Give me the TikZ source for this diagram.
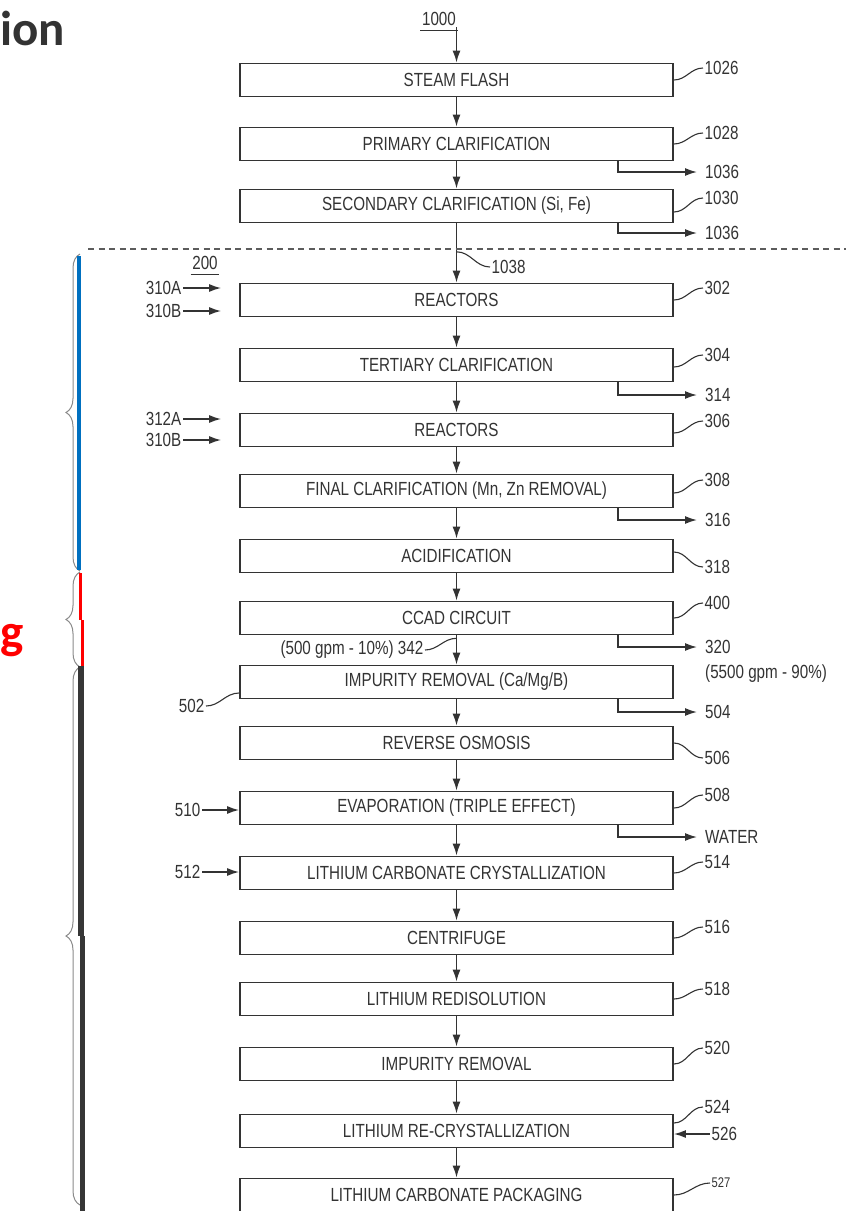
\documentclass[tikz,border=0pt]{standalone}
\usepackage{fontspec}
\newfontfamily\patfont{Liberation Sans}[FakeStretch=0.8]
\newfontfamily\slidefont{Carlito}
\usetikzlibrary{arrows.meta,calc,decorations.pathreplacing}
\definecolor{ink}{HTML}{333333}
\definecolor{bracegray}{HTML}{8A8A8A}
\definecolor{slideblue}{HTML}{0070C0}
\definecolor{slidered}{HTML}{FF0000}
\definecolor{slidedark}{HTML}{363636}
\definecolor{titlegray}{HTML}{333333}
\tikzset{
  stage/.style={draw=ink, line width=1.8pt, minimum width=433pt, minimum height=33pt,
    inner sep=0pt, text=ink, font=\patfont\fontsize{19}{20}\selectfont},
  num/.style={inner sep=1.5pt, text=ink, font=\patfont\fontsize{19}{20}\selectfont},
  flow/.style={draw=ink, line width=1.5pt, -{Latex[length=12pt,width=8pt]}},
  lead/.style={draw=ink, line width=1.1pt},
  bracket/.style={draw=bracegray, line width=1pt, decorate,
    decoration={brace, amplitude=14pt}},
  slidetext/.style={inner sep=0pt, font=\slidefont\bfseries\fontsize{49}{49}\selectfont},
}

\begin{document}
\begin{tikzpicture}[x=1pt, y=-1pt]
\useasboundingbox (0,0) rectangle (846,1211);

% cut-off slide text
\node[slidetext, anchor=base west, text=titlegray] (ion) at (0,45) {ion};
\node[slidetext, anchor=base west, text=slidered] (gtail) at (0,648) {g};

% process stages
\node[stage] (b1) at (456.5,80) {STEAM FLASH};
\node[stage] (b2) at (456.5,144) {PRIMARY CLARIFICATION};
\node[stage] (b3) at (456.5,206) {SECONDARY CLARIFICATION (Si, Fe)};
\node[stage] (b4) at (456.5,300) {REACTORS};
\node[stage] (b5) at (456.5,365) {TERTIARY CLARIFICATION};
\node[stage] (b6) at (456.5,430) {REACTORS};
\node[stage] (b7) at (456.5,491) {FINAL CLARIFICATION (Mn, Zn REMOVAL)};
\node[stage] (b8) at (456.5,556) {ACIDIFICATION};
\node[stage] (b9) at (456.5,618) {CCAD CIRCUIT};
\node[stage] (b10) at (456.5,682) {IMPURITY REMOVAL (Ca/Mg/B)};
\node[stage] (b11) at (456.5,743) {REVERSE OSMOSIS};
\node[stage] (b12) at (456.5,808) {EVAPORATION (TRIPLE EFFECT)};
\node[stage] (b13) at (456.5,873) {LITHIUM CARBONATE CRYSTALLIZATION};
\node[stage] (b14) at (456.5,938) {CENTRIFUGE};
\node[stage] (b15) at (456.5,999) {LITHIUM REDISOLUTION};
\node[stage] (b16) at (456.5,1064) {IMPURITY REMOVAL};
\node[stage] (b17) at (456.5,1131) {LITHIUM RE-CRYSTALLIZATION};
\node[stage] (b18) at (456.5,1195) {LITHIUM CARBONATE PACKAGING};

\foreach \a/\b in {b1/b2,b2/b3,b3/b4,b4/b5,b5/b6,b6/b7,b7/b8,b8/b9,b9/b10,
    b10/b11,b11/b12,b12/b13,b13/b14,b14/b15,b15/b16,b16/b17,b17/b18}
  \draw[flow] (\a.south) -- (\b.north);

% feed
\node[num] (n1000) at (439,19) {1000};
\draw[lead] ([yshift=-5pt]n1000.base west) -- ([yshift=-5pt]n1000.base east);
\draw[flow] (b1.north |- n1000.south) -- (b1.north);

% boundary
\draw[ink!80, line width=1.2pt, dash pattern=on 6pt off 4.5pt] (88,249) -- (846,249);
\node[num] (n200) at (205,263) {200};
\draw[lead] ([yshift=-5pt]n200.base west) -- ([yshift=-5pt]n200.base east);

% reference numerals on the right
\foreach \b/\n/\y/\s in {b1/1026/68/0, b2/1028/133/0, b3/1030/198/-6, b4/302/288/0,
    b5/304/355/-2, b6/306/421/-3, b7/308/480/-2, b8/318/567/4, b9/400/603/0,
    b11/506/758/0, b12/508/795/0, b13/514/862/0, b14/516/927/0, b15/518/989/0,
    b16/520/1048/0, b17/524/1107/8} {
  \node[num, anchor=west] (n\n) at (703,\y) {\n};
  \draw[lead] ([yshift=\s pt]\b.east) to[out=0,in=180] (n\n.west);
}
\node[num, anchor=west, font=\patfont\fontsize{14}{15}\selectfont] (n527) at (710,1183) {527};
\draw[lead] (b18.east) to[out=0,in=180] (n527.west);

% side streams out
\foreach \b/\n/\t/\y in {b2/o1036a/1036/172, b3/o1036b/1036/233, b5/o314/314/395,
    b7/o316/316/520, b9/o320/320/647, b10/o504/504/712, b12/owater/WATER/837} {
  \node[num, anchor=west, inner xsep=8pt] (\n) at (697,\y) {\t};
  \draw[flow] ([xshift=161.5pt]\b.south) |- (\n.west);
}
\node[num, anchor=west, inner xsep=8pt] (n5500) at (697,674) {(5500 gpm - 90\%)};

% feeds in
\foreach \n/\t/\y/\b in {n310A/310A/288/b4, n310B/310B/311/b4, n312A/312A/419/b6, n310Bb/310B/440/b6} {
  \node[num, anchor=east] (\n) at (183,\y) {\t};
  \draw[flow, shorten >=18pt] (\n.east) -- (\n.east -| \b.west);
}
\node[num, anchor=east] (n510) at (202,810) {510};
\draw[flow] (n510.east) -- (n510.east -| b12.west);
\node[num, anchor=east] (n512) at (202,872) {512};
\draw[flow] (n512.east) -- (n512.east -| b13.west);
\node[num, anchor=west] (n526) at (710,1134) {526};
\draw[flow] (n526.west) -- (n526.west -| b17.east);

\node[num, anchor=east] (n502) at (206,706) {502};
\draw[lead] (n502.east) to[out=0,in=180] ([yshift=-11pt]b10.west);

\coordinate (m1038) at ($(b3.south)!0.48!(b4.north)$);
\node[num, anchor=west] (n1038) at (490,267) {1038};
\draw[lead] (m1038) to[out=0,in=180] (n1038.west);

\coordinate (m342) at ($(b9.south)!0.1!(b10.north)$);
\node[num, anchor=east] (n342) at (425,650) {(500 gpm - 10\%) 342};
\draw[lead] (n342.east) to[out=0,in=180] (m342);

% brackets with slide marks
\draw[bracket] (80,571) -- (80,254);
\draw[bracket] (80,667) -- (80,572);
\draw[bracket] (80,1205) -- (80,667);
\draw[slideblue, line width=4.5pt] (79,256) -- (79,570);
\draw[slidered, line width=3.5pt] (80.5,573) -- (80.5,620) (82.5,620) -- (82.5,669);
\draw[slidedark, line width=5.5pt] (81,666) -- (81,936) (82.5,936) -- (82.5,1211);
\end{tikzpicture}
\end{document}
